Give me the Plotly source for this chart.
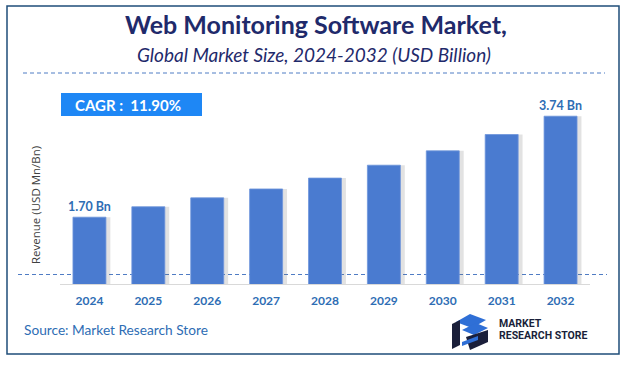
import plotly.graph_objects as go

years = ["2024", "2025", "2026", "2027", "2028", "2029", "2030", "2031", "2032"]
revenue = [1.70, 1.91, 2.09, 2.27, 2.49, 2.75, 3.04, 3.37, 3.74]
label_text = ["1.70 Bn", "", "", "", "", "", "", "", "3.74 Bn"]
title = "Web Monitoring Software Market,"
subtitle = "Global Market Size, 2024-2032 (USD Billion)"
cagr = "CAGR :  11.90%"
y_title = "Revenue (USD Mn/Bn)"
source = "Source: Market Research Store"

W, H = 624, 367
L, R, T, B = 60, 34, 100, 83
PW, PH = W - L - R, H - T - B

def px(x):
    return (x - L) / PW

def py(y):
    return (T + PH - y) / PH

BAR = "#4A7BD0"
TXT = "#2E6DB4"
NAVY = "#1F2A6B"

fig = go.Figure()
fig.add_trace(go.Bar(x=years, y=revenue, width=0.56, offset=-0.28 + 0.075,
                     marker=dict(color="rgba(110,110,110,0.2)", line=dict(width=0)),
                     hoverinfo="skip", showlegend=False))
fig.add_trace(go.Bar(x=years, y=revenue, width=0.56, offset=-0.28,
                     marker=dict(color=BAR, line=dict(color="#6F96DC", width=0.8)),
                     text=label_text, texttemplate="<b>%{text}</b>", textposition="outside",
                     constraintext="none",
                     textfont=dict(family="Lato", size=12.5, color=TXT),
                     cliponaxis=False, showlegend=False))

shapes = []
shapes.append(dict(type="rect", xref="paper", yref="paper", x0=px(7), x1=px(619), y0=py(6), y1=py(354),
                   line=dict(color="#1F4E79", width=1.5), fillcolor="rgba(0,0,0,0)", layer="below"))
shapes.append(dict(type="line", xref="paper", yref="paper", x0=px(23), x1=px(605), y0=py(73), y1=py(73),
                   line=dict(color="#4F7CC4", width=1, dash="4px,3px")))
shapes.append(dict(type="line", xref="paper", yref="paper", x0=px(18), x1=px(607), y0=py(274.5), y1=py(274.5),
                   line=dict(color="#4F7CC4", width=1, dash="4px,3px"), layer="below"))
shapes.append(dict(type="rect", xref="paper", yref="paper", x0=px(61), x1=px(202), y0=py(116), y1=py(93),
                   line=dict(width=0), fillcolor="#1E87F5"))

def path(pts):
    return "M " + " L ".join(f"{px(a)},{py(b)}" for a, b in pts) + " Z"

shapes.append(dict(type="path", xref="paper", yref="paper", path=path([(456, 322), (470, 314), (486, 320), (472, 328)]),
                   fillcolor="#2F6FD6", line=dict(width=0)))
shapes.append(dict(type="path", xref="paper", yref="paper", path=path([(452, 324), (460, 320), (460, 345), (452, 349)]),
                   fillcolor="#1A1F3A", line=dict(width=0)))
shapes.append(dict(type="path", xref="paper", yref="paper", path=path([(462, 330), (476, 323), (488, 328), (474, 335)]),
                   fillcolor="#2F6FD6", line=dict(width=0)))
shapes.append(dict(type="path", xref="paper", yref="paper", path=path([(466, 337), (488, 330), (488, 342), (470, 350)]),
                   fillcolor="#1A1F3A", line=dict(width=0)))
shapes.append(dict(type="path", xref="paper", yref="paper", path=path([(462, 342), (478, 336), (478, 340), (462, 346)]),
                   fillcolor="#2F6FD6", line=dict(width=0)))

annotations = [
    dict(text=f"<b>{title}</b>", xref="paper", yref="paper", x=px(316), y=py(24), showarrow=False,
         font=dict(family="Lato", size=25, color=NAVY), xanchor="center", yanchor="middle"),
    dict(text=f"<i>{subtitle}</i>", xref="paper", yref="paper", x=px(314), y=py(55), showarrow=False,
         font=dict(family="Lato", size=19, color=NAVY), xanchor="center", yanchor="middle"),
    dict(text=f"<b>{cagr}</b>", xref="paper", yref="paper", x=px(73), y=py(104.5), showarrow=False,
         font=dict(family="Lato", size=15, color="white"), xanchor="left", yanchor="middle"),
    dict(text=y_title, xref="paper", yref="paper", x=px(35), y=py(205), showarrow=False, textangle=-90,
         font=dict(family="Open Sans", size=11.5, color="#404040"), xanchor="center", yanchor="middle"),
    dict(text=source, xref="paper", yref="paper", x=px(22), y=py(329), showarrow=False,
         font=dict(family="Lato", size=13.7, color=TXT), xanchor="left", yanchor="middle"),
    dict(text="<b>MARKET</b>", xref="paper", yref="paper", x=px(497), y=py(323), showarrow=False,
         font=dict(family="Liberation Sans Narrow, Roboto", size=10.5, color="#1A1F3A"), xanchor="left", yanchor="middle"),
    dict(text="<b>RESEARCH STORE</b>", xref="paper", yref="paper", x=px(497), y=py(335), showarrow=False,
         font=dict(family="Liberation Sans Narrow, Roboto", size=10.5, color="#1A1F3A"), xanchor="left", yanchor="middle"),
]

fig.update_layout(
    width=W, height=H, margin=dict(l=L, r=R, t=T, b=B),
    paper_bgcolor="white", plot_bgcolor="rgba(0,0,0,0)",
    barmode="overlay", showlegend=False,
    shapes=shapes, annotations=annotations,
    xaxis=dict(showline=True, linecolor="#D9D9D9", linewidth=1, showgrid=False, ticks="",
               tickfont=dict(family="Lato", size=12, color=TXT), ticklabelstandoff=6,
               tickprefix="<b>", ticksuffix="</b>",
               range=[-0.5, 8.5], fixedrange=True),
    yaxis=dict(range=[0.35, 0.35 + PH / 49.5], visible=False, showgrid=False, fixedrange=True),
)

fig.write_html("out.html", config={"displayModeBar": False},
               post_script="document.body.style.margin='0';")
